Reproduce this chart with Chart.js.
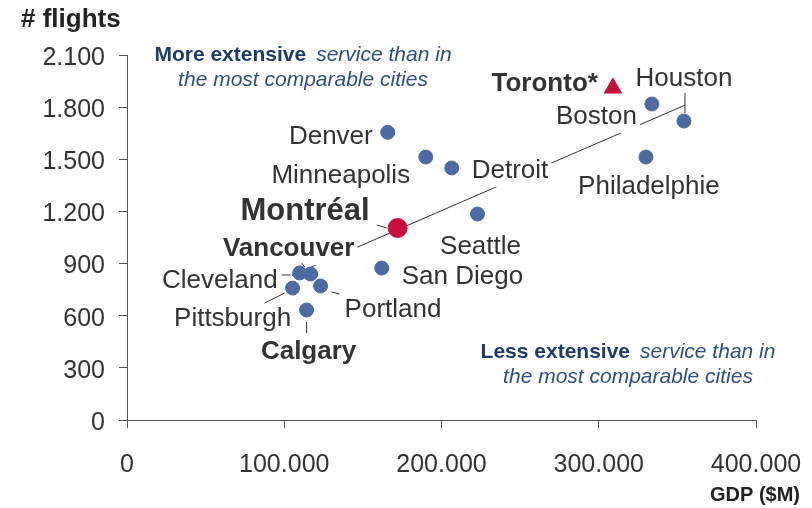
<!DOCTYPE html>
<html>
<head>
<meta charset="utf-8">
<script src="https://cdn.jsdelivr.net/npm/chart.js@4/dist/chart.umd.min.js"></script>
<style>
  html, body { margin: 0; padding: 0; background: #fff; }
  #wrap { width: 812px; height: 508px; }
</style>
</head>
<body>
<div id="wrap"><canvas id="chart" width="812" height="508"></canvas></div>
<script>
// data
const cities = ['Denver', 'Minneapolis', 'Detroit', 'Seattle', 'San Diego', 'Cleveland', 'Vancouver',
                'Pittsburgh', 'Portland', 'Calgary', 'Boston', 'Houston', 'Philadelphie'];
const gdp = [165800, 190000, 206500, 222900, 162000, 109800, 116800, 105300, 123100, 114200, 333800, 354200, 330000];
const flights = [1655, 1513, 1450, 1185, 874, 846, 840, 759, 771, 633, 1818, 1720, 1513];

const montrealName = ['Montréal'];
const montrealGdp = [172100];
const montrealFlights = [1105];

const torontoName = ['Toronto*'];
const torontoGdp = [309000];
const torontoFlights = [1910];

const trendGdp = [105000, 355000];
const trendFlights = [832, 1812];

const xTicks = [0, 100000, 200000, 300000, 400000];
const yTicks = [0, 300, 600, 900, 1200, 1500, 1800, 2100];

// label placement relative to each point (pixels)
const FONT = "'Liberation Sans', Arial, sans-serif";
const labelLayout = {
  'Denver':       { align: 'right',  dx: -15,  dy: 4 },
  'Minneapolis':  { align: 'center', dx: -85,  dy: 19 },
  'Detroit':      { align: 'left',   dx: 20,   dy: 3, box: true },
  'Seattle':      { align: 'center', dx: 3,    dy: 33 },
  'San Diego':    { align: 'left',   dx: 20,   dy: 9 },
  'Cleveland':    { align: 'right',  dx: -22,  dy: 8, leader: [-18, 2, -9, 2] },
  'Vancouver':    { align: 'center', dx: -22,  dy: -25, bold: true, box: true, leader: [-9, -11, -6, -7] },
  'Pittsburgh':   { align: 'center', dx: -60,  dy: 31, leader: [-28, 15, -8, 5] },
  'Portland':     { align: 'left',   dx: 24,   dy: 24, leader: [11, 6, 19, 8] },
  'Calgary':      { align: 'center', dx: 2,    dy: 42, bold: true, leader: [0, 12, 0, 23] },
  'Boston':       { align: 'right',  dx: -15,  dy: 13, box: true },
  'Houston':      { align: 'center', dx: 0,    dy: -42, leader: [1, -28, 1, -8] },
  'Philadelphie': { align: 'center', dx: 3,    dy: 30 },
  'Montréal':     { align: 'right',  dx: -28,  dy: -16, bold: true, size: 31, leader: [-21, -3, -11, 0] },
  'Toronto*':     { align: 'right',  dx: -15,  dy: -4, bold: true }
};

function fmt(v) {
  return String(v).replace(/\B(?=(\d{3})+(?!\d))/g, '.');
}

function pts(xs, ys) {
  return xs.map((x, i) => ({ x: x, y: ys[i] }));
}

const labelPlugin = {
  id: 'cityLabels',
  afterDatasetDraw(chart, args) {
    if (args.index !== 0) return; // draw right after the trend line so the points sit on top
    const ctx = chart.ctx;
    const xs = chart.scales.x, ys = chart.scales.y;
    const all = [
      [cities, gdp, flights],
      [montrealName, montrealGdp, montrealFlights],
      [torontoName, torontoGdp, torontoFlights]
    ];
    ctx.save();
    all.forEach(([names, gx, fy]) => {
      names.forEach((name, i) => {
        const l = labelLayout[name];
        const px = xs.getPixelForValue(gx[i]);
        const py = ys.getPixelForValue(fy[i]);
        const size = l.size || 26;
        ctx.font = (l.bold ? 'bold ' : '') + size + 'px ' + FONT;
        ctx.textAlign = l.align;
        ctx.textBaseline = 'middle';
        const tx = px + l.dx, ty = py + l.dy;
        if (l.box) {
          const w = ctx.measureText(name).width;
          let left = tx;
          if (l.align === 'right') left = tx - w;
          if (l.align === 'center') left = tx - w / 2;
          ctx.fillStyle = '#fff';
          ctx.fillRect(left - 3, ty - size * 0.62, w + 6, size * 1.24);
        }
        if (l.leader) {
          ctx.strokeStyle = '#333';
          ctx.lineWidth = 1;
          ctx.beginPath();
          ctx.moveTo(px + l.leader[0], py + l.leader[1]);
          ctx.lineTo(px + l.leader[2], py + l.leader[3]);
          ctx.stroke();
        }
        ctx.fillStyle = '#333';
        ctx.fillText(name, tx, ty);
      });
    });
    ctx.restore();
  },
  afterDraw(chart) {
    const ctx = chart.ctx;
    ctx.save();
    ctx.fillStyle = '#222';
    ctx.textBaseline = 'middle';
    ctx.textAlign = 'left';
    ctx.font = 'bold 26px ' + FONT;
    ctx.fillText('# flights', 21, 20);
    ctx.textAlign = 'right';
    ctx.font = 'bold 20px ' + FONT;
    ctx.fillText('GDP ($M)', 800, 495);

    // annotation blocks
    function note(cx, y1, boldPart, rest, line2) {
      ctx.textAlign = 'left';
      ctx.font = 'bold 21px ' + FONT;
      const w1 = ctx.measureText(boldPart).width;
      ctx.font = 'italic 21px ' + FONT;
      const gap = 10;
      const w2 = ctx.measureText(rest).width;
      const start = cx - (w1 + gap + w2) / 2;
      ctx.fillStyle = '#1c3a6b';
      ctx.font = 'bold 21px ' + FONT;
      ctx.fillText(boldPart, start, y1);
      ctx.fillStyle = '#2e4f84';
      ctx.font = 'italic 21px ' + FONT;
      ctx.fillText(rest, start + w1 + gap, y1);
      ctx.textAlign = 'center';
      ctx.fillText(line2, cx, y1 + 25);
    }
    note(303, 55, 'More extensive', 'service than in', 'the most comparable cities');
    note(628, 352, 'Less extensive', 'service than in', 'the most comparable cities');
    ctx.restore();
  }
};

new Chart(document.getElementById('chart'), {
  type: 'scatter',
  data: {
    datasets: [
      {
        type: 'line',
        label: 'trend',
        data: pts(trendGdp, trendFlights),
        borderColor: '#333',
        borderWidth: 1,
        pointRadius: 0,
        fill: false,
        order: 3
      },
      {
        label: 'cities',
        data: pts(gdp, flights),
        backgroundColor: '#4d6ba3',
        borderColor: '#4d6ba3',
        pointRadius: 7,
        pointHoverRadius: 7,
        order: 2
      },
      {
        label: 'Montréal',
        data: pts(montrealGdp, montrealFlights),
        backgroundColor: '#c8103f',
        borderColor: '#c8103f',
        pointRadius: 9.5,
        order: 1
      },
      {
        label: 'Toronto',
        data: pts(torontoGdp, torontoFlights),
        backgroundColor: '#c8103f',
        borderColor: '#c8103f',
        pointStyle: 'triangle',
        pointRadius: 10,
        order: 1
      }
    ]
  },
  options: {
    responsive: false,
    animation: false,
    layout: { padding: { top: 55, right: 56, left: 0, bottom: 0 } },
    plugins: {
      legend: { display: false },
      tooltip: { enabled: false }
    },
    scales: {
      x: {
        type: 'linear',
        min: 0,
        max: 400000,
        afterBuildTicks(scale) { scale.ticks = xTicks.map(v => ({ value: v })); },
        afterFit(scale) {
          scale.height = 88;
          scale.paddingLeft = 0;
          scale.paddingRight = 0;
        },
        border: { display: true, color: '#555', width: 1 },
        grid: { drawOnChartArea: false, drawTicks: true, tickLength: 8, color: '#555' },
        ticks: {
          padding: 22,
          color: '#333',
          font: { family: FONT, size: 25 },
          callback: v => fmt(v)
        }
      },
      y: {
        type: 'linear',
        min: 0,
        max: 2100,
        afterBuildTicks(scale) { scale.ticks = yTicks.map(v => ({ value: v })); },
        afterFit(scale) {
          scale.width = 127;
          scale.paddingTop = 0;
          scale.paddingBottom = 0;
        },
        border: { display: true, color: '#555', width: 1 },
        grid: { drawOnChartArea: false, drawTicks: true, tickLength: 8, color: '#555' },
        ticks: {
          padding: 14,
          labelOffset: 3,
          color: '#333',
          font: { family: FONT, size: 25 },
          callback: v => fmt(v)
        }
      }
    }
  },
  plugins: [labelPlugin]
});
</script>
</body>
</html>
